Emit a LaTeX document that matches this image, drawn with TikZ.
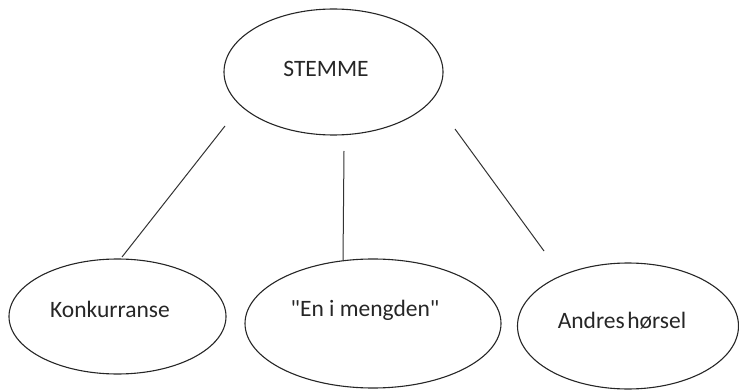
\documentclass[tikz,border=0pt]{standalone}
\usepackage{fontspec}
\setmainfont{Carlito}[Ligatures=TeXOff]
\usetikzlibrary{shapes.geometric}
\begin{document}
\begin{tikzpicture}[x=1pt,y=-1pt,
  oval/.style={draw=black!85, line width=1.1pt, ellipse, inner sep=0pt, fill=none},
  lbl/.style={font=\fontsize{23.5}{28}\selectfont, text=black!85, inner sep=0pt},
  conn/.style={draw=black!80, line width=1pt}]
\useasboundingbox (0,0) rectangle (739,390);
% ellipses
\node[oval, minimum width=219pt, minimum height=126pt] (top) at (333.5,72) {};
\node[oval, minimum width=217pt, minimum height=115pt] (konk) at (117.5,316.5) {};
\node[oval, minimum width=256pt, minimum height=129pt] (meng) at (373,323.5) {};
\node[oval, minimum width=221pt, minimum height=126pt] (andre) at (628,326) {};
% texts
\node[lbl] (ttop) at (326,69) {STEMME};
\node[lbl] (tkonk) at (110,309) {Konkurranse};
\node[lbl] (tmeng) at (365,310) {"En i mengden"};
\node[lbl] (tandre) at (622,321) {Andres\hspace{-0.12em} hørsel};
% connector ends
\coordinate (a1) at (225,126);
\coordinate (a2) at (122,257);
\coordinate (b1) at (344,151);
\coordinate (b2) at (343,261);
\coordinate (c1) at (455,129);
\coordinate (c2) at (544,251);
\draw[conn] (a1) -- (a2);
\draw[conn] (b1) -- (b2);
\draw[conn] (c1) -- (c2);
\end{tikzpicture}
\end{document}
